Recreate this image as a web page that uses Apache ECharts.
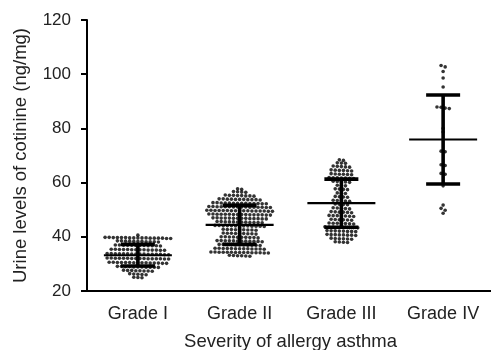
<!DOCTYPE html>
<html>
<head>
<meta charset="utf-8">
<script src="https://cdn.jsdelivr.net/npm/echarts@6/dist/echarts.min.js"></script>
<style>
html, body { margin: 0; padding: 0; background: #fff; }
#chart { width: 491px; height: 350px; }
</style>
</head>
<body>
<div id="chart"></div>
<script>
var grades = ['Grade I', 'Grade II', 'Grade III', 'Grade IV'];
var yTicks = [20, 40, 60, 80, 100, 120];

// individual readings, one per dot
var gradeI = [
    40.6,
    39.7, 39.5, 39.6, 39.8, 39.4, 39.6, 39.7, 39.5, 39.6, 39.8, 39.5, 39.7, 39.6, 39.4, 39.7, 39.5, 39.6,
    38.4, 38.2, 38.3, 38.5, 38.1, 38.3, 38.4, 38.2, 38.3, 38.5, 38.2,
    36.9, 36.7, 36.8, 37.0, 36.6, 36.8, 36.9, 36.7, 36.8, 37.0, 36.7, 36.9,
    35.3, 35.1, 35.2, 35.4, 35.0, 35.2, 35.3, 35.1, 35.2, 35.4, 35.1, 35.3, 35.2, 35.0,
    33.7, 33.5, 33.6, 33.8, 33.4, 33.6, 33.7, 33.5, 33.6, 33.8, 33.5, 33.7, 33.6, 33.4, 33.7, 33.5,
    32.1, 31.9, 32.0, 32.2, 31.8, 32.0, 32.1, 31.9, 32.0, 32.2, 31.9, 32.1, 32.0, 31.8, 32.1, 31.9,
    30.5, 30.3, 30.4, 30.6, 30.2, 30.4, 30.5, 30.3, 30.4, 30.6, 30.3, 30.5, 30.4, 30.2, 30.5,
    29.0, 28.8, 28.9, 29.1, 28.7, 28.9, 29.0, 28.8, 28.9, 29.1, 28.8,
    27.6, 27.4, 27.5, 27.7, 27.3, 27.5, 27.6, 27.4,
    26.3, 26.1, 26.2, 26.4, 26.0,
    25.1, 24.9, 25.0
];
var gradeII = [
    57.7, 57.5,
    56.6, 56.4, 56.5, 56.7,
    55.3, 55.1, 55.2, 55.4, 55.0, 55.2, 55.3, 55.1,
    53.9, 53.7, 53.8, 54.0, 53.6, 53.8, 53.9, 53.7, 53.8, 54.0, 53.7,
    52.5, 52.3, 52.4, 52.6, 52.2, 52.4, 52.5, 52.3, 52.4, 52.6, 52.3, 52.5, 52.4, 52.2,
    51.1, 50.9, 51.0, 51.2, 50.8, 51.0, 51.1, 50.9, 51.0, 51.2, 50.9, 51.1, 51.0, 50.8, 51.1, 50.9,
    49.7, 49.5, 49.6, 49.8, 49.4, 49.6, 49.7, 49.5, 49.6, 49.8, 49.5, 49.7, 49.6, 49.4, 49.7, 49.5, 49.6,
    48.3, 48.1, 48.2, 48.4, 48.0, 48.2, 48.3, 48.1, 48.2, 48.4, 48.1, 48.3, 48.2, 48.0, 48.3, 48.1,
    46.9, 46.7, 46.8, 47.0, 46.6, 46.8, 46.9, 46.7, 46.8, 47.0, 46.7, 46.9, 46.8, 46.6,
    45.5, 45.3, 45.4, 45.6, 45.2, 45.4, 45.5, 45.3, 45.4, 45.6, 45.3, 45.5,
    44.1, 43.9, 44.0, 44.2, 43.8, 44.0, 44.1, 43.9, 44.0, 44.2, 43.9, 44.1, 44.0,
    42.7, 42.5, 42.6, 42.8, 42.4, 42.6, 42.7, 42.5, 42.6,
    41.3, 41.1, 41.2, 41.4, 41.0, 41.2, 41.3, 41.1, 41.2,
    39.9, 39.7, 39.8, 40.0, 39.6, 39.8, 39.9, 39.7, 39.8, 40.0,
    38.5, 38.3, 38.4, 38.6, 38.2, 38.4, 38.5, 38.3, 38.4, 38.6, 38.3, 38.5,
    37.1, 36.9, 37.0, 37.2, 36.8, 37.0, 37.1, 36.9, 37.0, 37.2, 36.9,
    35.7, 35.5, 35.6, 35.8, 35.4, 35.6, 35.7, 35.5, 35.6, 35.8, 35.5, 35.7, 35.6,
    34.3, 34.1, 34.2, 34.4, 34.0, 34.2, 34.3, 34.1, 34.2, 34.4, 34.1, 34.3, 34.2, 34.0, 34.3,
    33.1, 32.9, 33.0, 33.2, 32.8, 33.0
];
var gradeIII = [
    68.4, 68.2,
    67.3, 67.1, 67.2,
    66.0, 65.8, 65.9, 66.1, 65.7,
    64.6, 64.4, 64.5, 64.7, 64.3, 64.5,
    63.2, 63.0, 63.1, 63.3, 62.9, 63.1,
    61.8, 61.6, 61.7, 61.9, 61.5, 61.7, 61.8,
    60.4, 60.2, 60.3, 60.5, 60.1,
    59.0, 58.8, 58.9,
    57.6, 57.4, 57.5, 57.7,
    56.2, 56.0, 56.1,
    54.8, 54.6, 54.7, 54.9,
    53.4, 53.2, 53.3, 53.5, 53.1,
    52.0, 51.8, 51.9, 52.1,
    50.6, 50.4, 50.5, 50.7, 50.3,
    49.2, 49.0, 49.1, 49.3, 48.9, 49.1,
    47.8, 47.6, 47.7, 47.9, 47.5, 47.7, 47.8,
    46.4, 46.2, 46.3, 46.5, 46.1, 46.3,
    45.0, 44.8, 44.9, 45.1, 44.7, 44.9, 45.0,
    43.6, 43.4, 43.5, 43.7, 43.3, 43.5, 43.6, 43.4, 43.5,
    42.2, 42.0, 42.1, 42.3, 41.9, 42.1, 42.2, 42.0,
    40.8, 40.6, 40.7, 40.9, 40.5, 40.7, 40.8, 40.6,
    39.4, 39.2, 39.3, 39.5, 39.1, 39.3,
    38.1, 37.9, 38.0, 38.2
];
var gradeIV = [
    103.2, 102.7, 101.0, 98.6, 95.3,
    87.9, 87.5, 87.3, 87.8,
    80.0, 78.7, 71.6, 71.4, 66.6, 66.3, 63.4, 63.1, 58.8,
    51.7, 50.5, 49.8, 48.7
];
var groups = [gradeI, gradeII, gradeIII, gradeIV];

// mean and SD bars as drawn
var means = [33.2, 44.4, 52.4, 75.9];
var sds = [4.0, 7.2, 8.9, 16.4];

var ink = '#000';
var textInk = '#222';
var dotGap = 4.1;

// prism-like rows: dots with near-equal values share a row, spread side by side
function swarm(values, cat) {
    var sorted = values.slice().sort(function(a, b) { return b - a; });
    var rows = [];
    var cur = null;
    sorted.forEach(function(v) {
        if (!cur || cur.start - v > 0.75) {
            cur = { start: v, items: [] };
            rows.push(cur);
        }
        cur.items.push(v);
    });
    var out = [];
    rows.forEach(function(r) {
        var n = r.items.length;
        r.items.forEach(function(v, i) {
            out.push({ value: [cat, v], symbolOffset: [(i - (n - 1) / 2) * dotGap, 0] });
        });
    });
    return out;
}

var dots = [];
groups.forEach(function(g, i) { dots = dots.concat(swarm(g, i)); });

var chart = echarts.init(document.getElementById('chart'), null, { renderer: 'canvas' });

chart.setOption({
    animation: false,
    grid: { left: 87, right: -3, top: 20, bottom: 59, outerBoundsMode: 'none', containLabel: false },
    xAxis: {
        type: 'category',
        data: grades,
        name: 'Severity of allergy asthma',
        nameLocation: 'middle',
        nameGap: 41,
        nameTextStyle: { color: textInk, fontSize: 18.5, fontFamily: 'Liberation Sans' },
        axisLine: { lineStyle: { color: ink, width: 2 } },
        axisTick: { alignWithLabel: true, length: 6, lineStyle: { color: ink, width: 2 } },
        axisLabel: { color: textInk, fontSize: 18, fontFamily: 'Liberation Sans', margin: 14 },
        splitLine: { show: false }
    },
    yAxis: {
        type: 'value',
        min: yTicks[0],
        max: yTicks[yTicks.length - 1],
        interval: yTicks[1] - yTicks[0],
        name: 'Urine levels of cotinine (ng/mg)',
        nameLocation: 'middle',
        nameGap: 57,
        nameTextStyle: { color: textInk, fontSize: 18.5, fontFamily: 'Liberation Sans' },
        axisLine: { show: true, lineStyle: { color: ink, width: 2 } },
        axisTick: { show: true, length: 6, lineStyle: { color: ink, width: 2 } },
        axisLabel: { color: textInk, fontSize: 17, fontFamily: 'Liberation Sans', margin: 16 },
        splitLine: { show: false }
    },
    series: [
        {
            type: 'scatter',
            data: dots,
            symbol: 'circle',
            symbolSize: 3.6,
            itemStyle: { color: ink },
            z: 2
        },
        {
            type: 'custom',
            data: means.map(function(m, i) { return [i, m, sds[i]]; }),
            renderItem: function(params, api) {
                var x = api.value(0), m = api.value(1), s = api.value(2);
                var c = api.coord([x, m]);
                var t = api.coord([x, m + s]);
                var b = api.coord([x, m - s]);
                var thick = { stroke: ink, lineWidth: 3.6 };
                return {
                    type: 'group',
                    children: [
                        { type: 'line', shape: { x1: c[0] - 34, y1: c[1], x2: c[0] + 34, y2: c[1] }, style: { stroke: ink, lineWidth: 2.2 } },
                        { type: 'line', shape: { x1: c[0], y1: t[1], x2: c[0], y2: b[1] }, style: thick },
                        { type: 'line', shape: { x1: c[0] - 17, y1: t[1], x2: c[0] + 17, y2: t[1] }, style: thick },
                        { type: 'line', shape: { x1: c[0] - 17, y1: b[1], x2: c[0] + 17, y2: b[1] }, style: thick }
                    ]
                };
            },
            z: 3
        }
    ]
});
window.addEventListener('resize', function() { chart.resize(); });
</script>
</body>
</html>
